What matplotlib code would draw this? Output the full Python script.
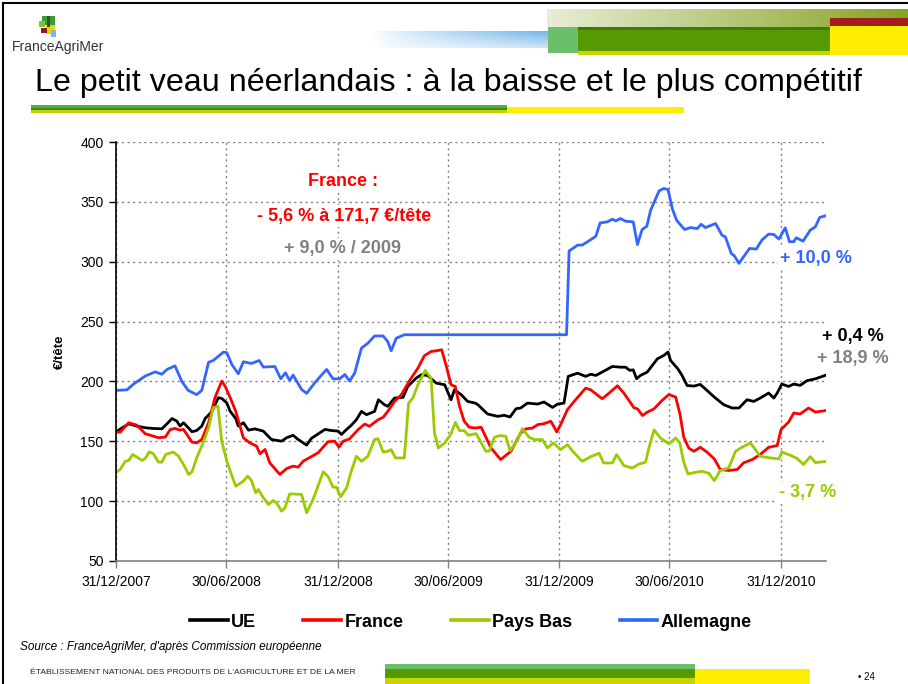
import numpy as np
import pandas as pd
import matplotlib
matplotlib.use('Agg')
import matplotlib.pyplot as plt
from matplotlib.patches import Rectangle
from matplotlib.lines import Line2D

plt.rcParams['font.family'] = ['Liberation Sans', 'DejaVu Sans']

# weekly prices (EUR/head), week number counted from 31/12/2007
start = pd.Timestamp('2007-12-31')

ue_weeks = [0, 3, 4.9, 6.9, 8.8, 10.8, 12, 13.2, 14.3, 15.1, 15.9, 17.9, 19, 20.2, 21, 22.6, 24.1, 24.9,
            26.1, 26.9, 28.2, 28.8, 30, 31.2, 32.7, 34.7, 36.6, 39, 40.2, 41.7, 42.9, 44.9, 46, 49.2,
            50.7, 52.3, 53.1, 54.3, 55.4, 56.6, 57.8, 59, 60.9, 61.8, 63.2, 64, 65.6, 67.6, 68.7, 70.7,
            71.9, 73.4, 75.4, 77.4, 78.9, 79.7, 81.3, 82.8, 84.6, 85.2, 87.5, 89.9, 91.4, 92.8, 94.2,
            95.3, 96.9, 99.3, 100.8, 102.8, 104, 105.5, 106.5, 108.7, 110.6, 111.8, 113, 114.9, 116.9,
            118.8, 120, 121, 121.8, 122.6, 123.5, 125.1, 126.3, 127.5, 129, 130, 130.6, 132.3, 133.3,
            134.5, 136.1, 137.6, 139.2, 140.9, 143.1, 145.1, 146.7, 148.6, 150.2, 151.7, 153.7, 154.9,
            155.7, 156.8, 158.4, 159.6, 161.1, 162.7, 164.7, 167]
ue_values = [158, 164.6, 162.7, 161.3, 160.7, 160.4, 164.6, 169, 166.9, 162.7, 165.5, 158, 159, 162.7,
             169, 175, 186.4, 185.8, 182, 175, 169, 162.7, 165.5, 159.3, 160.4, 158.5, 151.5, 150.1, 153,
             155, 151.5, 146.8, 152.4, 159.9, 159, 158.5, 155.7, 159.9, 163.3, 168, 175, 172.2, 175,
             184.7, 180.6, 179.2, 186.1, 186.7, 195.8, 202.8, 205.6, 205, 198.6, 197.2, 184.7, 193,
             188.9, 183.3, 181.9, 180.6, 172.8, 170.8, 171.7, 170.3, 177.2, 177.8, 181.9, 181.1, 182.8,
             178.3, 181.1, 181.9, 204.2, 206.9, 204.2, 206, 205, 208.6, 212.5, 211.9, 211.9, 209.2,
             209.7, 202.2, 205, 207.8, 213.4, 218.9, 221.7, 224.5, 217.5, 210.6, 205, 196.6, 196.1,
             197.5, 192.4, 186.9, 180.6, 177.8, 177.8, 184.7, 183.3, 186.1, 190.3, 186.1, 190.3, 197.8,
             195.8, 197.8, 196.7, 200.6, 202.2, 205]

fr_weeks = [0, 1, 3, 4.9, 6.9, 10, 11.6, 12.8, 13.9, 15.1, 15.9, 17.9, 19, 20.2, 21.8, 23.3, 24.9, 25.7,
            26.9, 28.2, 30, 31.5, 33.1, 33.9, 35.1, 36.2, 38.6, 40.2, 41.7, 42.9, 44.1, 47.6, 49.9,
            51.5, 52.5, 53.5, 55, 57, 58.6, 59.7, 61.7, 62.9, 64, 65.6, 67.2, 69.1, 71.1, 72.6, 74.2,
            75.4, 76.7, 77.7, 78.9, 79.9, 80.9, 82, 83.2, 84.6, 86, 88.3, 90.6, 93, 95.3, 96.5, 98.1,
            99.3, 100.8, 102.4, 103.8, 104.7, 106.3, 107.9, 110.6, 111.8, 114.5, 116.1, 118.1, 119.6,
            120.8, 122, 122.8, 124, 125.1, 126.7, 128.6, 130.2, 131.8, 132.8, 133.7, 134.9, 136.1,
            137.6, 139.2, 140.9, 142.3, 144.3, 146.3, 147.8, 149.8, 151.7, 153.7, 155.7, 156.6, 158.4,
            159.6, 161.1, 163.1, 164.7, 167]
fr_values = [157.7, 157.7, 165.5, 163.5, 156.3, 153, 153.5, 159.9, 160.7, 159.3, 159.9, 149.3, 148.7,
             151.5, 165.5, 186.4, 200.3, 196, 186.4, 175, 152.9, 148.7, 146, 139.6, 143.2, 132, 122.3,
             127.3, 129.2, 128.4, 133.4, 140.4, 149.6, 150.1, 145.1, 150.1, 152, 159.7, 164.4, 162.5,
             168, 170, 175, 183.3, 188.9, 200.6, 211.1, 221.4, 225, 225.6, 226.4, 213.9, 197.2, 195.8,
             179.2, 166.7, 161.7, 161.1, 161.7, 144.4, 134.7, 141.7, 156.9, 160.3, 161.1, 163.9, 164.7,
             166.7, 157.8, 163.9, 176.4, 183.3, 194.4, 193, 185.5, 190.2, 196.4, 190.2, 184.1, 177.9,
             177.1, 171.5, 174.3, 177.1, 184.1, 189.1, 186.9, 172.9, 153.4, 144.2, 141.7, 145, 140.9,
             135.3, 126.4, 125.6, 126.4, 132, 134.7, 138.9, 145, 146.4, 159.7, 166.1, 173.6, 172.8,
             177.8, 174.4, 175.6]

nl_weeks = [0, 1, 2.2, 3, 3.9, 4.9, 6.1, 6.9, 7.8, 8.8, 10, 10.8, 11.7, 13.5, 14.7, 15.9, 17.1, 17.9, 19,
            20.2, 21.8, 22.9, 24, 24.9, 26.1, 27.2, 28.2, 30, 31, 31.9, 32.9, 33.5, 34.7, 35.9, 37,
            37.8, 39, 39.8, 40.9, 43.7, 44.9, 46.4, 48.8, 50, 51.1, 51.9, 52.9, 54.3, 55.4, 56.6, 57.8,
            59.3, 60.9, 61.7, 62.9, 64, 64.8, 65.8, 67.9, 68.9, 69.9, 71.1, 72.8, 74.2, 75, 75.9, 77.4,
            78.8, 79.9, 80.9, 82, 83, 84.8, 87.1, 87.9, 89.1, 90.3, 91.8, 92.8, 94.6, 95.7, 97.3, 98.5,
            100.4, 101.6, 103, 104.7, 106.3, 107.9, 109.8, 111, 111.8, 113.8, 114.8, 116.9, 117.9,
            119.6, 121.6, 123.2, 124.7, 125.5, 126.7, 128.2, 130.2, 131.8, 132.8, 133.7, 134.7, 136.5,
            138, 139.6, 140.9, 142.3, 144.3, 145.9, 147.4, 149.4, 151.7, 154.1, 156.1, 156.8, 158.8,
            160.4, 161.9, 163.5, 164.7, 167]
nl_values = [124.2, 126.5, 133.4, 134, 139, 136.8, 134, 135.7, 141.2, 139.6, 132.6, 132.6, 139, 141,
             137.6, 130.6, 122.3, 124.5, 136.2, 146, 161.3, 178, 179.4, 150, 133.4, 122, 112.5, 116.7,
             120.9, 117.3, 107, 109.7, 102.8, 97.2, 100.6, 98.6, 91.6, 94.4, 106.1, 105.6, 90.3, 101.4,
             124.5, 120.3, 111.7, 111.7, 103.6, 111.1, 125, 137.5, 133.3, 137.5, 151.4, 152.2, 141.1,
             141.7, 143, 136.1, 136.1, 181.9, 186.1, 197.2, 209.2, 202.8, 156.9, 144.4, 148.6, 155.6,
             165.8, 158.9, 158.9, 155, 156.4, 141.7, 141.7, 153.3, 154.7, 154.2, 142.2, 151.4, 160.6,
             153.3, 151.4, 151.4, 144.4, 148.6, 143, 147.2, 140.3, 133.3, 135.6, 137.2, 140, 131.9,
             131.9, 138.9, 129.7, 127.7, 131.1, 132.5, 144.5, 159.5, 152.8, 147.8, 152.8, 148.4, 132.5,
             122.7, 124.1, 124.9, 123.3, 117.1, 125.6, 127.8, 141.7, 145, 148.6, 137.5, 136.1, 135.3,
             141.1, 138.3, 135.6, 130.6, 137.2, 132.2, 133.1]

de_weeks = [0, 2.6, 4.2, 6.9, 9.2, 10.8, 12, 13.9, 15.5, 17, 19, 20.2, 21.8, 22.9, 25.3, 26.1, 27.3, 28.8,
            30, 31.9, 33.7, 34.7, 37.4, 38.8, 39.9, 40.9, 41.7, 43.7, 44.9, 46.8, 49.6, 51.1, 52.7,
            53.9, 55, 56.2, 57.8, 59.3, 60.9, 62.9, 64, 64.8, 66, 67.9, 106.1, 106.7, 108.7, 109.8,
            111.4, 113, 114, 115.7, 116.9, 117.7, 118.8, 120, 121.8, 122.8, 123.9, 125, 125.9, 127.9,
            129, 130, 131, 132, 133.9, 135.3, 136.9, 137.8, 138.8, 141.2, 142.7, 143.5, 144.9, 145.6,
            146.7, 147.8, 149.2, 150.8, 152.1, 153.7, 154.9, 156.1, 157.6, 158.6, 159.6, 160.2, 161.8,
            163.5, 164.7, 165.7, 167]
de_values = [192.5, 193, 198, 204.5, 208, 206, 210, 213, 200, 192.5, 189, 192.5, 216, 217.5, 224.5, 224,
             214, 206.4, 216.4, 215, 217.5, 212, 212.5, 202.2, 207.2, 200.8, 205.3, 193.3, 190, 198.9,
             210, 202.2, 202.2, 205.8, 200.3, 206.9, 227.8, 231.9, 238, 238, 233.3, 225.6, 236.1, 239,
             239, 308.9, 313.9, 313.9, 317.5, 321.3, 332.4, 333.3, 335.5, 334.1, 336.1, 333.8, 333.3,
             314.3, 326.9, 329.6, 343, 359.2, 361.2, 360.3, 344.4, 334.7, 326.9, 328.5, 327.7, 331.3,
             328.5, 331.9, 322.2, 320.8, 306.9, 305, 298.6, 304.2, 311.1, 310.6, 318.1, 323.1, 322.8,
             318.9, 328.3, 316.7, 316.7, 320, 317.2, 326.4, 329.2, 336.9, 338.3]

tick_dates = ['2007-12-31', '2008-06-30', '2008-12-31', '2009-06-30', '2009-12-31', '2010-06-30', '2010-12-31']
tick_labels = ['31/12/2007', '30/06/2008', '31/12/2008', '30/06/2009', '31/12/2009', '30/06/2010', '31/12/2010']


def to_dates(weeks):
    return start + pd.to_timedelta(np.array(weeks) * 7, unit='D')


W, H = 908, 684
fig = plt.figure(figsize=(W / 100, H / 100), dpi=100)

# slide decoration, drawn in pixel coordinates
bg = fig.add_axes([0, 0, 1, 1])
bg.set_xlim(0, W)
bg.set_ylim(H, 0)
bg.axis('off')

bg.plot([3, 3], [3, H], color='black', lw=1.5)
bg.plot([3, W], [3, 3], color='black', lw=1.5)

# blue fading bar
grad = np.linspace(0, 1, 256)
vert = np.linspace(1, 0.35, 32)[:, None]
blue = np.array([0.45, 0.71, 0.91])
img = 1 - (1 - blue) * (grad[None, :] ** 0.8 * vert)[:, :, None]
bg.imshow(img, extent=(372, 548, 48, 31), aspect='auto', interpolation='bilinear')
# olive fading bar
olive = np.array([0.53, 0.64, 0.13])
pale = np.array([0.91, 0.93, 0.84])
img2 = pale + (olive - pale) * grad[None, :, None]
img2 = np.repeat(img2, 4, axis=0)
bg.imshow(img2, extent=(547, W, 27, 9), aspect='auto', interpolation='bilinear')

bg.add_patch(Rectangle((548, 27), 30, 26, color='#6BBF6B', lw=0))
bg.add_patch(Rectangle((578, 27), 252, 24, color='#559A00', lw=0))
bg.add_patch(Rectangle((578, 27), 252, 3, color='#3D7A10', lw=0))
bg.add_patch(Rectangle((578, 51), 252, 4, color='#C8D400', lw=0))
bg.add_patch(Rectangle((830, 18), 78, 8, color='#A51C1C', lw=0))
bg.add_patch(Rectangle((830, 26), 78, 29, color='#FFEE00', lw=0))

# logo
bg.add_patch(Rectangle((42, 16), 13, 9, color='#3E9A3A', lw=0))
bg.add_patch(Rectangle((39, 21), 6, 6, color='#7FBF3F', lw=0))
bg.add_patch(Rectangle((46, 25), 9, 9, color='#F2D200', lw=0))
bg.add_patch(Rectangle((41, 28), 6, 5, color='#8E1B1B', lw=0))
bg.add_patch(Rectangle((51, 30), 5, 7, color='#7FB7E6', lw=0))
bg.add_patch(Rectangle((47, 16), 3, 11, color='#1F5F2A', lw=0))
bg.text(12, 47, 'FranceAgriMer', fontsize=10, color='#333333', va='center', ha='left')

bg.text(35, 83, 'Le petit veau néerlandais : à la baisse et le plus compétitif', fontsize=23.2,
        color='black', va='center', ha='left')
bg.add_patch(Rectangle((31, 105), 476, 3, color='#5AAA3A', lw=0))
bg.add_patch(Rectangle((31, 108), 476, 2, color='#3D8A20', lw=0))
bg.add_patch(Rectangle((31, 110), 476, 3, color='#BFD200', lw=0))
bg.add_patch(Rectangle((507, 107), 177, 6, color='#FFEE00', lw=0))

bg.text(20, 647, "Source : FranceAgriMer, d'après Commission européenne", fontsize=8.5, style='italic',
        va='center', ha='left')
bg.text(30, 672, "ÉTABLISSEMENT NATIONAL DES PRODUITS DE L'AGRICULTURE ET DE LA MER", fontsize=6.1,
        va='center', ha='left', color='#222222')
bg.add_patch(Rectangle((385, 664), 310, 5, color='#6BBF6B', lw=0))
bg.add_patch(Rectangle((385, 669), 310, 9, color='#559A00', lw=0))
bg.add_patch(Rectangle((385, 678), 310, 6, color='#C8D400', lw=0))
bg.add_patch(Rectangle((695, 669), 115, 15, color='#FFEE00', lw=0))
bg.text(858, 677, '• 24', fontsize=7, va='center', ha='left')

# chart
ax = fig.add_axes([116 / W, (H - 561) / H, 710 / W, 419 / H])
ax.set_facecolor('none')

series = [('UE', ue_weeks, ue_values, 'black'),
          ('France', fr_weeks, fr_values, '#FF0000'),
          ('Pays Bas', nl_weeks, nl_values, '#99CC00'),
          ('Allemagne', de_weeks, de_values, '#3366FF')]
for name, wk, vals, col in series:
    ax.plot(to_dates(wk), vals, color=col, lw=2.0, label=name, solid_joinstyle='round')

ax.set_ylim(50, 400)
ax.set_yticks(np.arange(50, 401, 50))
ax.set_xlim(start, start + pd.Timedelta(days=7 * 167.2))
ax.set_xticks(pd.to_datetime(tick_dates))
ax.set_xticklabels(tick_labels)
ax.tick_params(axis='both', labelsize=10, direction='out', length=5, width=1, colors='black')
ax.tick_params(axis='x', pad=5, color='#808080')
ax.tick_params(axis='y', pad=4)
ax.grid(True, color='#808080', linestyle=(0, (1.5, 2.5)), linewidth=1.0)
ax.set_axisbelow(True)
for s in ['top', 'right']:
    ax.spines[s].set_visible(False)
ax.spines['left'].set_color('black')
ax.spines['bottom'].set_color('#808080')
ax.spines['left'].set_linewidth(1.2)
ax.spines['bottom'].set_linewidth(1.2)

ax.set_ylabel('€/tête', fontsize=9.5, fontweight='bold', labelpad=10)

handles = [Line2D([], [], color=c, lw=2.6) for _, _, _, c in series]
ax.legend(handles, [s[0] for s in series], loc='center', bbox_to_anchor=(0.5, -0.146), ncol=4,
          frameon=False, prop={'size': 13, 'weight': 'bold'}, handlelength=2.1, handletextpad=0.2,
          columnspacing=2.6)


def ax_text(px, py, s, color, ha='left'):
    ax.text((px - 116) / 710, (561 - py) / 419, s, transform=ax.transAxes, fontsize=13,
            fontweight='bold', color=color, ha=ha, va='center', clip_on=False, zorder=5,
            bbox=dict(facecolor='white', edgecolor='none', pad=1.5))


ax_text(343, 182, 'France :', '#FF0000', ha='center')
ax_text(344, 216, '- 5,6 % à 171,7 €/tête', '#FF0000', ha='center')
ax_text(343, 249, '+ 9,0 % / 2009', '#808080', ha='center')
ax_text(780, 258, '+ 10,0 %', '#3366FF')
ax_text(822, 337, '+ 0,4 %', 'black')
ax_text(817, 359, '+ 18,9 %', '#808080')
ax_text(779, 493, '- 3,7 %', '#99CC00')

fig.savefig('out.png', dpi=100)
